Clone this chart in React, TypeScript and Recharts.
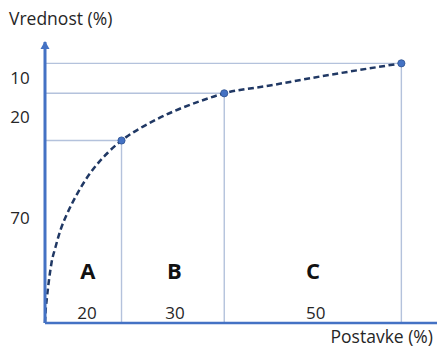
import {
  ComposedChart,
  Line,
  Scatter,
  XAxis,
  YAxis,
  ReferenceLine,
  ReferenceDot,
} from 'recharts';

// cumulative curve (Postavke % -> Vrednost %)
const curveX = [0, 0.14, 0.56, 1.12, 1.82, 2.95, 4.35, 6.31, 8.7, 11.36, 14.45, 17.68, 21.47, 26.66, 31.34, 36.0, 43.5, 50.3, 63.1, 77.2, 100];
const curveY = [0, 3.84, 9.99, 16.53, 23.06, 29.21, 35.74, 42.28, 48.81, 54.96, 60.72, 65.53, 70.14, 74.83, 78.29, 81.29, 85.25, 88.28, 91.28, 94.74, 99.8];

// class boundary points
const markerX = [21.47, 50.3, 100];
const markerY = [70.14, 88.28, 99.8];

// class letters and shares of items
const classNames = ['A', 'B', 'C'];
const classX = [12, 36.3, 75.2];
const classY = 20;
const itemShares = ['20', '30', '50'];
const itemShareX = [11.8, 36.5, 76];
const itemShareY = 3.8;

// value shares shown on the y side
const yTickValues = [94, 79, 40.2];
const yTickLabels = ['10', '20', '70'];

const curve = curveX.map((x, i) => ({ x, y: curveY[i] }));
const markers = markerX.map((x, i) => ({ x, y: markerY[i] }));

const AXIS = '#4472c4';
const GUIDE = '#b4c2dc';
const FONT = '"Open Sans", sans-serif';

const YTick = ({ y, payload }: { y?: number; payload?: { value: number } }) => {
  const idx = yTickValues.indexOf(payload?.value as number);
  return (
    <text x={20} y={y} dy={6} textAnchor="middle" fontSize={17} fill="#262626" fontFamily={FONT}>
      {yTickLabels[idx]}
    </text>
  );
};

export default function App() {
  return (
    <div style={{ position: 'absolute', left: 0, top: 0, width: 437, height: 353, background: '#fff', fontFamily: FONT }}>
      <div style={{ position: 'absolute', left: 9, top: 6, fontSize: 17.5, color: '#262626', lineHeight: 'normal' }}>Vrednost (%)</div>
      <div style={{ position: 'absolute', right: 4, top: 324, fontSize: 17.5, color: '#262626', lineHeight: 'normal' }}>Postavke (%)</div>
      <ComposedChart
        width={437}
        height={353}
        data={curve}
        margin={{ top: 42, right: 0, bottom: 0, left: 0 }}
      >
        <XAxis
          type="number"
          dataKey="x"
          domain={[0, 110]}
          height={30}
          tick={false}
          tickLine={false}
          axisLine={{ stroke: AXIS, strokeWidth: 2.5 }}
        />
        <YAxis
          type="number"
          domain={[0, 108]}
          width={45}
          ticks={yTickValues}
          tick={<YTick />}
          tickLine={false}
          axisLine={{ stroke: AXIS, strokeWidth: 3 }}
        />
        {markers.map((m, i) => (
          <ReferenceLine
            key={`h-${i}`}
            segment={[{ x: 0, y: m.y }, { x: m.x, y: m.y }]}
            stroke={GUIDE}
            strokeWidth={1.4}
          />
        ))}
        {markers.map((m, i) => (
          <ReferenceLine
            key={`v-${i}`}
            segment={[{ x: m.x, y: 0 }, { x: m.x, y: m.y }]}
            stroke={GUIDE}
            strokeWidth={1.4}
          />
        ))}
        <Line
          type="monotone"
          dataKey="y"
          stroke="#203864"
          strokeWidth={2.5}
          strokeDasharray="6 3.5"
          dot={false}
          isAnimationActive={false}
        />
        <Scatter
          data={markers}
          dataKey="y"
          fill={AXIS}
          shape={(p: { cx?: number; cy?: number }) => (
            <circle cx={p.cx} cy={p.cy} r={3.6} fill={AXIS} stroke="#2f528f" strokeWidth={0.8} />
          )}
          isAnimationActive={false}
        />
        <ReferenceDot
          x={0}
          y={108}
          ifOverflow="visible"
          shape={(p: { cx?: number; cy?: number }) => (
            <polygon
              points={`${p.cx},${(p.cy ?? 0) - 1} ${(p.cx ?? 0) - 4.5},${(p.cy ?? 0) + 7} ${(p.cx ?? 0) + 4.5},${(p.cy ?? 0) + 7}`}
              fill={AXIS}
            />
          )}
        />
        {classNames.map((c, i) => (
          <ReferenceDot
            key={`c-${c}`}
            x={classX[i]}
            y={classY}
            ifOverflow="visible"
            shape={(p: { cx?: number; cy?: number }) => (
              <text x={p.cx} y={p.cy} dy={8} textAnchor="middle" fontSize={22} fontWeight="bold" fill="#111" fontFamily={FONT}>
                {c}
              </text>
            )}
          />
        ))}
        {itemShares.map((s, i) => (
          <ReferenceDot
            key={`s-${i}`}
            x={itemShareX[i]}
            y={itemShareY}
            ifOverflow="visible"
            shape={(p: { cx?: number; cy?: number }) => (
              <text x={p.cx} y={p.cy} dy={6} textAnchor="middle" fontSize={17} fill="#262626" fontFamily={FONT}>
                {s}
              </text>
            )}
          />
        ))}
      </ComposedChart>
    </div>
  );
}
